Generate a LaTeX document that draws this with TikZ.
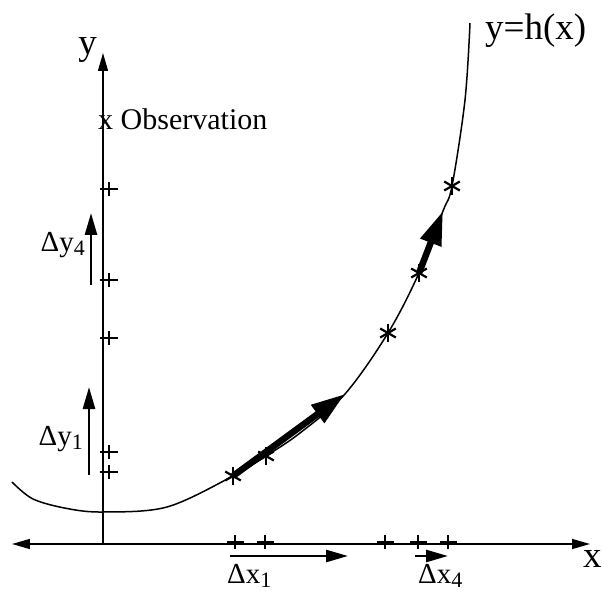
\documentclass[tikz,border=0pt]{standalone}
\usepackage{fontspec}
\setmainfont{Liberation Serif}
\usetikzlibrary{arrows.meta, calc}

\newcommand{\idx}[1]{\raisebox{-4pt}{\fontsize{22}{22}\selectfont #1}}

\begin{document}
\begin{tikzpicture}[x=10pt, y=10pt,
    axis/.style={line width=1.5pt, >={Triangle[length=18pt,width=10pt]}},
    delta/.style={line width=2.6pt, -{Triangle[length=22pt,width=12pt]}},
    secant/.style={line width=6.5pt, -{Triangle[length=34pt,width=21pt]}},
    plusline/.style={line width=2pt},
    starline/.style={line width=2.2pt},
    lab/.style={inner sep=0pt, font=\fontsize{29}{32}\selectfont},
    big/.style={inner sep=0pt, font=\fontsize{37}{40}\selectfont}]

    % Rahmen
    \useasboundingbox (-10.3,-4.8) rectangle (49.9,54.4);

    % 1. Achsen
    \coordinate (O) at (0,0);
    \coordinate (xl) at (-9.1,0);
    \coordinate (xr) at (48.7,0);
    \coordinate (yt) at (0,49.1);
    \draw[axis, <->] (xl) -- (xr);
    \draw[axis, ->] (O) -- (yt);
    \node[big, anchor=base west] (xlab) at (48.0,-2.3) {x};
    \node[big, anchor=base east] (ylab) at (-0.6,48.9) {y};

    % 2. Kurve y=h(x) mit Stuetzstellen
    \coordinate (s1) at (13.0,6.8);
    \coordinate (s2) at (16.3,8.8);
    \coordinate (t1) at (24.2,15.0);
    \coordinate (s3) at (28.5,21.1);
    \coordinate (s4) at (31.6,27.1);
    \coordinate (t4) at (34.0,33.3);
    \coordinate (s5) at (34.9,35.8);
    \draw[line width=1.5pt] plot[smooth, tension=0.55] coordinates {
        (-9.1,6.2) (-7.0,4.5) (-3.6,3.55) (0,3.2) (6.4,3.7)
        (s1) (s2) (19.7,11.1) (t1) (s3) (s4) (t4) (s5)
        (36.2,44.4) (36.7,52.1)};
    \node[big, anchor=base west] (hlab) at (38.2,50.4) {y=h(x)};

    % Sekanten
    \draw[secant] (s1) -- (t1);
    \draw[secant] (s4) -- (t4);

    % Sterne auf der Kurve
    \foreach \s in {s1,s2,s3,s4,s5}
        \foreach \a in {90,30,150}
            \draw[starline] (\s) ++(\a:0.9) -- ++(\a+180:1.8);

    % 3. Projektionen auf die Achsen
    \foreach \p in {13.2,16.2,28.2,31.5,34.5}
        \draw[plusline] (\p,0.2) +(-0.85,0) -- +(0.85,0) +(0,-0.7) -- +(0,0.7);
    \foreach \q in {7.2,9.2,20.6,26.4,35.5}
        \draw[plusline] (0.6,\q) +(-0.85,0) -- +(0.85,0) +(0,-0.7) -- +(0,0.7);

    \node[lab, font=\fontsize{30}{32}\selectfont, anchor=base west] (obs) at (-0.5,41.4) {x Observation};

    % 4. Zuwaechse
    \coordinate (dy1a) at (-1.4,6.9);
    \coordinate (dy1b) at (-1.4,15.7);
    \coordinate (dy4a) at (-1.2,25.9);
    \coordinate (dy4b) at (-1.2,33.1);
    \coordinate (dx1a) at (12.7,-1.2);
    \coordinate (dx1b) at (24.5,-1.2);
    \coordinate (dx4a) at (31.2,-1.2);
    \coordinate (dx4b) at (34.5,-1.2);
    \draw[delta] (dy1a) -- (dy1b);
    \draw[delta] (dy4a) -- (dy4b);
    \draw[delta] (dx1a) -- (dx1b);
    \draw[delta] (dx4a) -- (dx4b);

    \node[lab, anchor=base east] (ldy1) at (-2.0,9.9) {Δy\idx{1}};
    \node[lab, anchor=base east] (ldy4) at (-1.8,29.2) {Δy\idx{4}};
    \node[lab, anchor=base west] (ldx1) at (12.4,-3.9) {Δx\idx{1}};
    \node[lab, anchor=base west] (ldx4) at (31.5,-3.9) {Δx\idx{4}};

\end{tikzpicture}
\end{document}
